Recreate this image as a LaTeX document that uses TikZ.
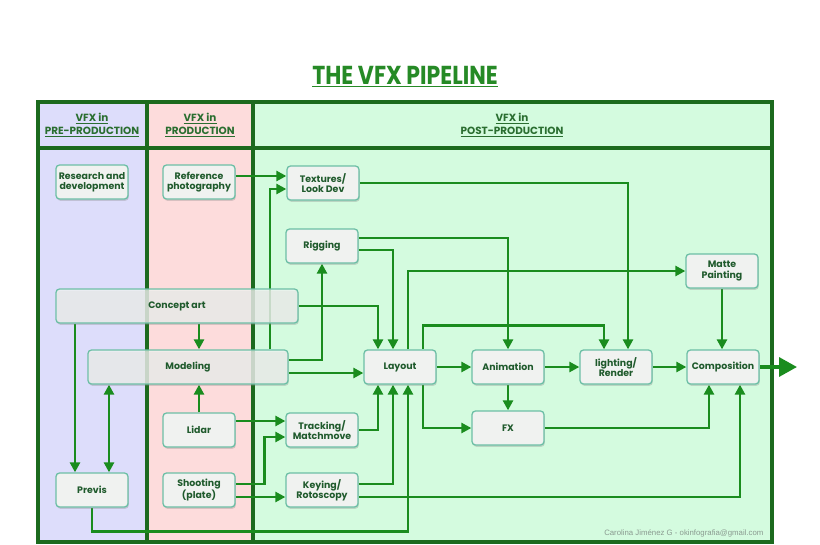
\documentclass[tikz,border=0pt]{standalone}
\usepackage{fontspec}
\setmainfont{Poppins}
\newfontfamily\credfont{Liberation Sans}
\usetikzlibrary{arrows.meta,shadows}
\definecolor{precol}{HTML}{DDDDFB}
\definecolor{prodcol}{HTML}{FDDCDC}
\definecolor{postcol}{HTML}{D4FBDF}
\definecolor{framegreen}{HTML}{1C6A1E}
\definecolor{arrowgreen}{HTML}{1A8C1E}
\definecolor{boxfill}{HTML}{F0F2F0}
\definecolor{boxline}{HTML}{6DBFA6}
\definecolor{txtgreen}{HTML}{1F5A2C}
\definecolor{headgreen}{HTML}{2A6E30}
\definecolor{titlegreen}{HTML}{268A26}
\definecolor{credgray}{HTML}{8A9A90}
\newcommand{\hdr}[1]{\underline{#1}}
\pgfdeclarelayer{bg}
\pgfsetlayers{bg,main}

\begin{document}
\begin{tikzpicture}[x=1pt,y=-1pt,
   box/.style={draw=boxline, line width=1.3pt, fill=boxfill, rounded corners=3.5pt,
      minimum width=72pt, minimum height=34pt, inner sep=1pt, align=center,
      text=txtgreen, font=\fontsize{9.4}{10.4}\selectfont\bfseries,
      drop shadow={shadow xshift=0.8pt, shadow yshift=-1.8pt, opacity=0.3}},
   widebox/.style={box, fill opacity=0.78, text opacity=1},
   flow/.style={draw=arrowgreen, line width=2.8pt, -{Triangle[length=10pt,width=10pt]}},
   flowboth/.style={flow, {Triangle[length=10pt,width=10pt]}-{Triangle[length=10pt,width=10pt]}},
   outflow/.style={draw=arrowgreen, line width=3.4pt, -{Triangle[length=18pt,width=19pt]}},
   frame/.style={draw=framegreen, line width=3.4pt},
   head/.style={text=headgreen, align=center, font=\fontsize{10.4}{13}\selectfont\bfseries}]
   \useasboundingbox (0,0) rectangle (820,544);
   \node[text=titlegreen, font=\fontsize{22}{24}\selectfont\bfseries] (title) at (405,77) {\scalebox{1}[1.18]{\underline{THE VFX PIPELINE}}};
   \node[head] (hpre)  at ( 92,125) {\hdr{VFX in}\\\hdr{PRE-PRODUCTION}};
   \node[head] (hprod) at (200,125) {\hdr{VFX in}\\\hdr{PRODUCTION}};
   \node[head] (hpost) at (512,125) {\hdr{VFX in}\\\hdr{POST-PRODUCTION}};
   \node[box] (research)  at ( 92,182) {Research and\\development};
   \node[box] (refphoto)  at (199,182) {Reference\\photography};
   \node[box] (textures)  at (323,183) {Textures/\\Look Dev};
   \node[box] (rigging)   at (322,246) {Rigging};
   \node[box] (matte)     at (722,271) {Matte\\Painting};
   \node[widebox, minimum width=242pt] (concept)  at (177,306) {Concept art};
   \node[widebox, minimum width=200pt] (modeling) at (188,367) {Modeling};
   \node[box] (layout)    at (400,367) {Layout};
   \node[box] (animation) at (508,367) {Animation};
   \node[box] (lighting)  at (616,367) {lighting/\\Render};
   \node[box] (compo)     at (723,367) {Composition};
   \node[box] (fx)        at (508,428) {FX};
   \node[box] (lidar)     at (199,430) {Lidar};
   \node[box] (tracking)  at (322,430) {Tracking/\\Matchmove};
   \node[box] (previs)    at ( 92,490) {Previs};
   \node[box] (shooting)  at (199,490) {Shooting\\(plate)};
   \node[box] (keying)    at (322,490) {Keying/\\Rotoscopy};
   \node[anchor=east, text=credgray, font=\credfont\fontsize{7.8}{8}\selectfont] (credit) at (767,533) {Carolina Jiménez G - okinfografia@gmail.com};
   \coordinate (out) at (797,367);
   \begin{pgfonlayer}{bg}
   \fill[precol]  ( 38,102) rectangle (147,542);
   \fill[prodcol] (147,102) rectangle (253,542);
   \fill[postcol] (253,102) rectangle (772,542);
   \draw[frame] ( 38,102) rectangle (772,542);
   \draw[frame] ( 38,148) -- (772,148);
   \draw[frame] (147,102) -- (147,542);
   \draw[frame] (253,102) -- (253,542);
   \draw[flow] (refphoto.east |- 0,176) -- (textures.west |- 0,176);
   \draw[flow] (modeling.north -| 270,0) |- (textures.west |- 0,189);
   \draw[flow] (modeling.east |- 0,360) -| (rigging.south);
   \draw[flow] (modeling.east |- 0,373) -- (layout.west |- 0,373);
   \draw[flow] (concept.east) -| (layout.north -| 378,0);
   \draw[flow] (concept.south -| 199,0) -- (modeling.north -| 199,0);
   \draw[flow] (concept.south -| 75,0) -- (previs.north -| 75,0);
   \draw[flowboth] (modeling.south -| 109,0) -- (previs.north -| 109,0);
   \draw[flow] (lidar.north) -- (modeling.south -| lidar.north);
   \draw[flow] (lidar.east |- 0,421) -- (tracking.west |- 0,421);
   \draw[flow] (shooting.east |- 0,484) -- ++(29,0) |- (tracking.west |- 0,437);
   \draw[flow] (shooting.east |- 0,497) -- (keying.west |- 0,497);
   \draw[flow] (tracking.east) -| (layout.south -| 378,0);
   \draw[flow] (keying.east |- 0,484) -| (layout.south -| 393,0);
   \draw[flow] (keying.east |- 0,497) -| (compo.south -| 740,0);
   \draw[flow] (previs.south) -- ++(0,24) -| (layout.south -| 408,0);
   \draw[flow] (rigging.east |- 0,238) -| (animation.north);
   \draw[flow] (rigging.east |- 0,250) -| (layout.north -| 393,0);
   \draw[flow] (textures.east) -| (lighting.north -| 628,0);
   \draw[flow] (layout.north -| 408,0) |- (matte.west);
   \draw[flow] (layout.north -| 423,0) -- ++(0,-24) -| (lighting.north -| 604,0);
   \draw[flow] (layout) -- (animation);
   \draw[flow] (layout.south -| 423,0) |- (fx.west);
   \draw[flow] (animation) -- (fx);
   \draw[flow] (animation) -- (lighting);
   \draw[flow] (lighting) -- (compo);
   \draw[flow] (matte.south) -- (compo.north -| matte.south);
   \draw[flow] (fx.east) -| (compo.south -| 709,0);
   \draw[outflow] (compo.east) -- (out);
   \end{pgfonlayer}
\end{tikzpicture}
\end{document}
